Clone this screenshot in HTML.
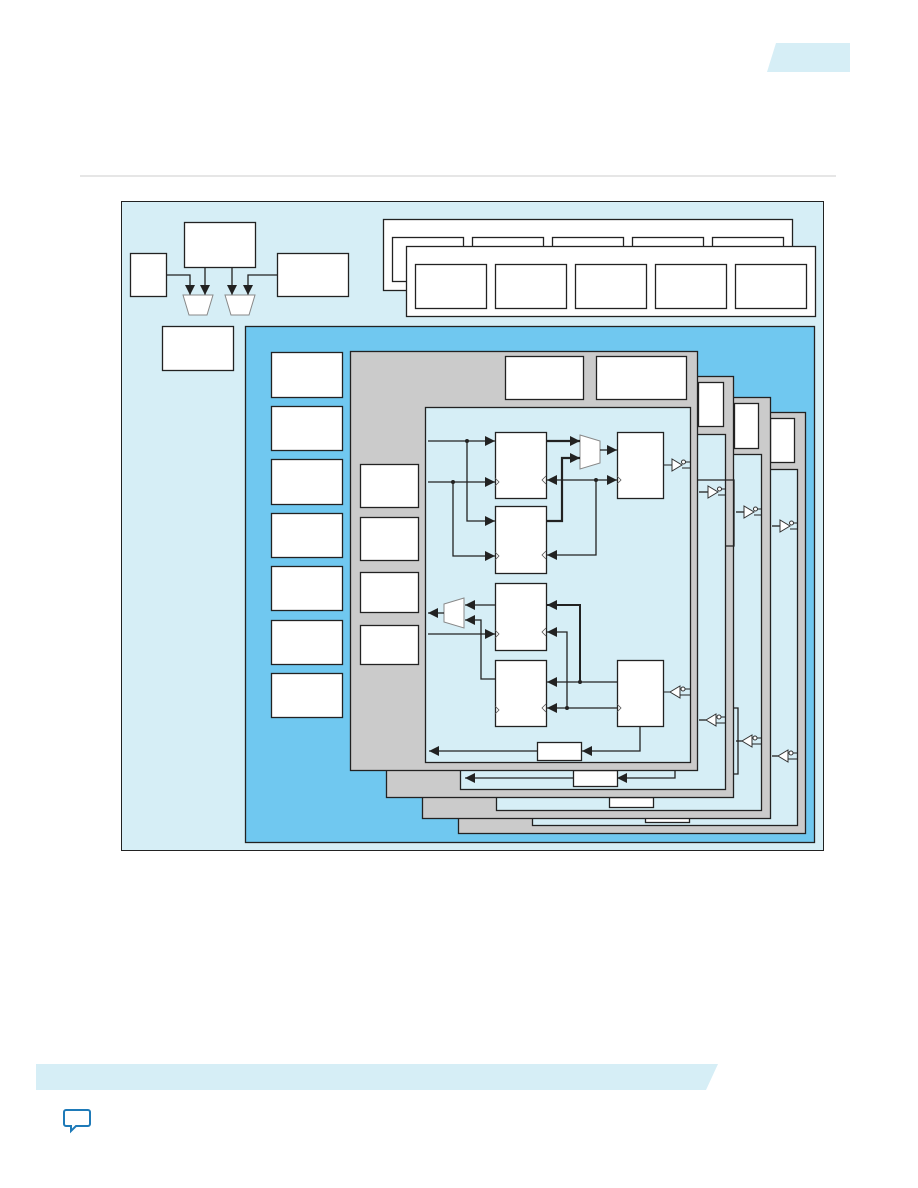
<!DOCTYPE html>
<html><head><meta charset="utf-8"><style>
html,body{margin:0;padding:0;background:#fff;}
svg{display:block;}
</style></head><body>
<svg width="918" height="1188" viewBox="0 0 918 1188" xmlns="http://www.w3.org/2000/svg">
<defs>
<marker id="a" viewBox="0 0 10 10" refX="10" refY="5" markerWidth="10" markerHeight="10" markerUnits="userSpaceOnUse" orient="auto"><path d="M0,0L10,5L0,10z" fill="#222"/></marker>
</defs>
<polygon points="776,43 850,43 850,72 767,72" fill="#d6eef6"/>
<line x1="80" y1="176" x2="836" y2="176" stroke="#ccc" stroke-width="1"/>
<rect x="121.5" y="201.5" width="702" height="649" fill="#d6eef6" stroke="#222" stroke-width="1"/>
<g stroke="#222" stroke-width="1.3" fill="#fff">
<rect x="130.5" y="253.5" width="36" height="43"/>
<rect x="184.5" y="222.5" width="71" height="45"/>
<rect x="277.5" y="253.5" width="71" height="43"/>
<rect x="162.5" y="326.5" width="71" height="44"/>
</g>
<g stroke="#222" stroke-width="1.3" fill="none">
<polyline points="166,275 190,275 190,295" marker-end="url(#a)"/>
<line x1="205" y1="267" x2="205" y2="295" marker-end="url(#a)"/>
<line x1="232" y1="267" x2="232" y2="295" marker-end="url(#a)"/>
<polyline points="277,275 248,275 248,295" marker-end="url(#a)"/>
</g>
<g fill="#fff" stroke="#888" stroke-width="1">
<polygon points="183,295 213,295 207,315 189,315"/>
<polygon points="225,295 255,295 249,315 231,315"/>
</g>
<g stroke="#222" stroke-width="1.3" fill="#fff">
<rect x="383.5" y="219.5" width="409" height="71"/>
<rect x="392.5" y="237.5" width="71" height="44"/>
<rect x="472.5" y="237.5" width="71" height="44"/>
<rect x="552.5" y="237.5" width="71" height="44"/>
<rect x="632.5" y="237.5" width="71" height="44"/>
<rect x="712.5" y="237.5" width="71" height="44"/>
<rect x="406.5" y="246.5" width="409" height="70"/>
<rect x="415.5" y="264.5" width="71" height="44"/>
<rect x="495.5" y="264.5" width="71" height="44"/>
<rect x="575.5" y="264.5" width="71" height="44"/>
<rect x="655.5" y="264.5" width="71" height="44"/>
<rect x="735.5" y="264.5" width="71" height="44"/>
</g>
<rect x="245.5" y="326.5" width="569" height="516" fill="#70c8f0" stroke="#222" stroke-width="1.3"/>
<g stroke="#222" stroke-width="1.3" fill="#fff">
<rect x="271.5" y="352.5" width="71" height="45"/>
<rect x="271.5" y="406.5" width="71" height="44"/>
<rect x="271.5" y="459.5" width="71" height="45"/>
<rect x="271.5" y="513.5" width="71" height="44"/>
<rect x="271.5" y="566.5" width="71" height="44"/>
<rect x="271.5" y="620.5" width="71" height="44"/>
<rect x="271.5" y="673.5" width="71" height="44"/>
</g>
<g stroke="#222" stroke-width="1.3">
<rect x="458.5" y="412.5" width="347" height="421" fill="#cbcbcb"/>
<rect x="532.5" y="469.5" width="265" height="356" fill="#d6eef6"/>
<rect x="770.5" y="418.5" width="24" height="44" fill="#fff"/>
<rect x="645.5" y="812.5" width="44" height="10" fill="#fff"/>
<line x1="772" y1="526" x2="780" y2="526"/><line x1="772" y1="756" x2="778" y2="756"/>
<rect x="422.5" y="397.5" width="348" height="421" fill="#cbcbcb"/>
<rect x="496.5" y="454.5" width="265" height="356" fill="#d6eef6"/>
<rect x="734.5" y="403.5" width="24" height="45" fill="#fff"/>
<rect x="609.5" y="797.5" width="44" height="10" fill="#fff"/>
<line x1="736" y1="512" x2="744" y2="512"/><line x1="736" y1="741" x2="742" y2="741"/>
<polyline points="734,708 738,708 738,774 734,774" fill="none"/>
<rect x="386.5" y="376.5" width="347" height="421" fill="#cbcbcb"/>
<rect x="460.5" y="434.5" width="265" height="355" fill="#d6eef6"/>
<rect x="698.5" y="382.5" width="25" height="44" fill="#fff"/>
<rect x="573.5" y="770.5" width="44" height="16" fill="#fff"/>
<line x1="699" y1="492" x2="708" y2="492"/><line x1="699" y1="720" x2="706" y2="720"/>
<polyline points="675,770 675,778 617,778" fill="none" marker-end="url(#a)"/>
<line x1="573" y1="778" x2="465" y2="778" marker-end="url(#a)"/>
<polyline points="698,480 734,480 734,546 725,546" fill="none"/>
<rect x="350.5" y="351.5" width="347" height="419" fill="#cbcbcb"/>
<rect x="425.5" y="407.5" width="265" height="355" fill="#d6eef6"/>
<rect x="505.5" y="356.5" width="78" height="43" fill="#fff"/>
<rect x="596.5" y="356.5" width="90" height="43" fill="#fff"/>
<rect x="360.5" y="464.5" width="58" height="43" fill="#fff"/>
<rect x="360.5" y="517.5" width="58" height="43" fill="#fff"/>
<rect x="360.5" y="572.5" width="58" height="40" fill="#fff"/>
<rect x="360.5" y="625.5" width="58" height="39" fill="#fff"/>
</g>
<g fill="#fff" stroke="#333" stroke-width="1">
<polygon points="672,459 672,471 682,465"/><circle cx="683.5" cy="462" r="2"/>
<polygon points="708,486 708,498 718,492"/><circle cx="719.5" cy="489" r="2"/>
<polygon points="744,506 744,518 754,512"/><circle cx="755.5" cy="509" r="2"/>
<polygon points="780,520 780,532 790,526"/><circle cx="791.5" cy="523" r="2"/>
<polygon points="680,686 680,698 670,692"/><circle cx="683" cy="689" r="2"/>
<polygon points="716,714 716,726 706,720"/><circle cx="719" cy="717" r="2"/>
<polygon points="752,735 752,747 742,741"/><circle cx="755" cy="738" r="2"/>
<polygon points="788,750 788,762 778,756"/><circle cx="791" cy="753" r="2"/>
</g>
<g stroke="#222" stroke-width="1" fill="none">
<polyline points="685,462 690,462"/><polyline points="682,468 690,468"/>
<polyline points="721,489 725,489"/><polyline points="718,495 725,495"/>
<polyline points="757,509 761,509"/><polyline points="754,515 761,515"/>
<polyline points="793,523 797,523"/><polyline points="790,529 797,529"/>
<polyline points="685,689 690,689"/><polyline points="680,695 690,695"/>
<polyline points="721,717 725,717"/><polyline points="716,723 725,723"/>
<polyline points="757,738 761,738"/><polyline points="752,744 761,744"/>
<polyline points="793,753 797,753"/><polyline points="788,759 797,759"/>
<line x1="663" y1="465" x2="672" y2="465"/>
<line x1="663" y1="692" x2="670" y2="692"/>
</g>
<g stroke="#222" stroke-width="1.3" fill="#fff">
<rect x="495.5" y="432.5" width="51" height="66"/>
<rect x="495.5" y="506.5" width="51" height="67"/>
<rect x="495.5" y="583.5" width="51" height="67"/>
<rect x="495.5" y="660.5" width="51" height="66"/>
<rect x="617.5" y="432.5" width="46" height="66"/>
<rect x="617.5" y="660.5" width="46" height="66"/>
<rect x="537.5" y="742.5" width="44" height="18"/>
</g>
<g fill="#fff" stroke="#888" stroke-width="1">
<polygon points="580,435 600,441 600,463 580,469"/>
<polygon points="464,598 444,604 444,622 464,628"/>
</g>
<g stroke="#222" stroke-width="1.3" fill="none">
<line x1="428" y1="441" x2="495" y2="441" marker-end="url(#a)"/>
<polyline points="467,441 467,521 495,521" marker-end="url(#a)"/>
<line x1="428" y1="482" x2="495" y2="482" marker-end="url(#a)"/>
<polyline points="453,482 453,556 495,556" marker-end="url(#a)"/>
<line x1="546" y1="441" x2="580" y2="441" stroke-width="2.2" marker-end="url(#a)"/>
<polyline points="546,521 562,521 562,458 580,458" stroke-width="2.2" marker-end="url(#a)"/>
<line x1="600" y1="450" x2="617" y2="450" marker-end="url(#a)"/>
<line x1="596" y1="480" x2="617" y2="480" marker-end="url(#a)"/>
<line x1="596" y1="480" x2="547" y2="480" marker-end="url(#a)"/>
<polyline points="596,480 596,555 547,555" marker-end="url(#a)"/>
<line x1="495" y1="605" x2="465" y2="605" marker-end="url(#a)"/>
<line x1="444" y1="613" x2="428" y2="613" marker-end="url(#a)"/>
<polyline points="495,679 481,679 481,620 465,620" marker-end="url(#a)"/>
<line x1="428" y1="634" x2="495" y2="634" marker-end="url(#a)"/>
<polyline points="580,682 580,605 547,605" stroke-width="2" marker-end="url(#a)"/>
<polyline points="567,708 567,632 547,632" marker-end="url(#a)"/>
<line x1="617" y1="682" x2="547" y2="682" marker-end="url(#a)"/>
<line x1="617" y1="708" x2="547" y2="708" marker-end="url(#a)"/>
<polyline points="640,726 640,751 582,751" marker-end="url(#a)"/>
<line x1="537" y1="751" x2="429" y2="751" marker-end="url(#a)"/>
</g>
<g fill="#222">
<circle cx="467" cy="441" r="2"/><circle cx="453" cy="482" r="2"/>
<circle cx="596" cy="480" r="2"/><circle cx="580" cy="682" r="2"/><circle cx="567" cy="708" r="2"/>
</g>
<g fill="none" stroke="#555" stroke-width="0.8">
<polyline points="495,478 499,482 495,486"/><polyline points="495,552 499,556 495,560"/>
<polyline points="495,630 499,634 495,638"/><polyline points="495,706 499,710 495,714"/>
<polyline points="546,476 542,480 546,484"/><polyline points="546,551 542,555 546,559"/>
<polyline points="546,628 542,632 546,636"/><polyline points="546,704 542,708 546,712"/>
<polyline points="617,476 621,480 617,484"/><polyline points="617,704 621,708 617,712"/>
</g>
<polygon points="36,1064 718,1064 706,1090 36,1090" fill="#d6eef6"/>
<path d="M66,1110 h22 a2,2 0 0 1 2,2 v12 a2,2 0 0 1 -2,2 h-12 l-5,5 v-5 h-5 a2,2 0 0 1 -2,-2 v-12 a2,2 0 0 1 2,-2z" fill="none" stroke="#1e7ab8" stroke-width="2"/>
</svg>
</body></html>
